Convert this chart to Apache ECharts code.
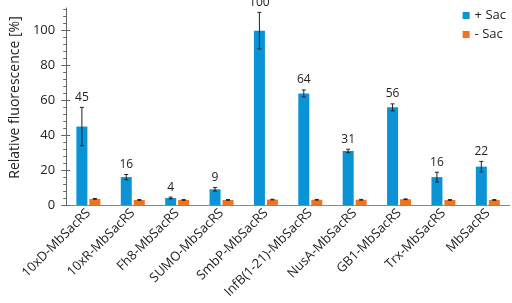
<!DOCTYPE html>
<html>
<head>
<meta charset="utf-8">
<script src="https://cdn.jsdelivr.net/npm/echarts@6/dist/echarts.min.js"></script>
<style>
html, body { margin: 0; padding: 0; background: #fff; }
#chart { width: 512px; height: 303px; }
</style>
</head>
<body>
<div id="chart"></div>
<script>
var categories = ['10xD-MbSacRS', '10xR-MbSacRS', 'Fh8-MbSacRS', 'SUMO-MbSacRS', 'SmbP-MbSacRS',
    'InfB(1-21)-MbSacRS', 'NusA-MbSacRS', 'GB1-MbSacRS', 'Trx-MbSacRS', 'MbSacRS'];
var plusSac = [45, 16, 4, 9, 100, 64, 31, 56, 16, 22];
var plusSacErr = [11, 1.5, 0.5, 1, 10.5, 2, 1, 2, 2.8, 3];
var minusSac = [3.5, 2.9, 2.9, 2.9, 3.1, 3.0, 3.0, 3.3, 2.9, 2.9];
var minusSacErr = [0.2, 0.2, 0.2, 0.2, 0.2, 0.2, 0.2, 0.2, 0.2, 0.2];
var majorTicks = [0, 20, 40, 60, 80, 100];
var minorTicks = [0, 4, 8, 12, 16, 20, 24, 28, 32, 36, 40, 44, 48, 52, 56, 60, 64, 68, 72, 76, 80,
    84, 88, 92, 96, 100, 104, 108, 112];

var chart = echarts.init(document.getElementById('chart'));
var font = 'Open Sans';

function errorSeries(values, errs, offset, showLabel) {
    return {
        type: 'custom',
        z: 10,
        silent: true,
        data: values.map(function (v, i) { return [i, v, errs[i]]; }),
        renderItem: function (params, api) {
            var i = api.value(0);
            var v = api.value(1);
            var e = api.value(2);
            var top = api.coord([i, v + e]);
            var bot = api.coord([i, v - e]);
            var x = top[0] + offset;
            var children = [
                { type: 'line', shape: { x1: x, y1: top[1], x2: x, y2: bot[1] }, style: { stroke: '#222', lineWidth: 1 } },
                { type: 'line', shape: { x1: x - 2, y1: top[1], x2: x + 2, y2: top[1] }, style: { stroke: '#222', lineWidth: 1 } },
                { type: 'line', shape: { x1: x - 2, y1: bot[1], x2: x + 2, y2: bot[1] }, style: { stroke: '#222', lineWidth: 1 } }
            ];
            if (showLabel) {
                children.push({
                    type: 'text',
                    style: {
                        x: x, y: top[1] - 4, text: String(v),
                        align: 'center', verticalAlign: 'bottom',
                        fill: '#222', font: '12px "' + font + '"'
                    }
                });
            }
            return { type: 'group', children: children };
        }
    };
}

var option = {
    animation: false,
    textStyle: { fontFamily: font },
    legend: {
        orient: 'vertical',
        right: 1,
        top: 4,
        itemWidth: 7,
        itemHeight: 7,
        itemGap: 6,
        icon: 'rect',
        textStyle: { fontSize: 13, color: '#222', fontFamily: font },
        data: ['+ Sac', '- Sac']
    },
    grid: { left: 52, right: 2, top: 8, bottom: 98 },
    xAxis: {
        type: 'category',
        data: categories,
        axisLine: { lineStyle: { color: '#888', width: 1 } },
        axisTick: { show: false },
        axisLabel: {
            rotate: 45, interval: 0, fontSize: 13, color: '#222', margin: 6, fontFamily: font
        }
    },
    yAxis: [{
        type: 'value',
        min: 0,
        max: 113,
        name: 'Relative fluorescence [%]',
        nameLocation: 'middle',
        nameGap: 36,
        nameTextStyle: { fontSize: 14, color: '#222', fontFamily: font, padding: [0, 0, 0, 18] },
        splitLine: { show: false },
        axisLine: { show: true, lineStyle: { color: '#666' } },
        axisTick: { show: true, customValues: minorTicks, length: 3, lineStyle: { color: '#666' } },
        axisLabel: { customValues: majorTicks, fontSize: 13, color: '#222', margin: 11, fontFamily: font }
    }, {
        type: 'value',
        min: 0,
        max: 113,
        position: 'left',
        splitLine: { show: false },
        axisLine: { show: false },
        axisTick: { show: true, customValues: majorTicks, inside: true, length: 4, lineStyle: { color: '#666' } },
        axisLabel: { show: false }
    }, {
        type: 'value',
        min: 0,
        max: 113,
        position: 'left',
        splitLine: { show: false },
        axisLine: { show: false },
        axisTick: { show: true, customValues: majorTicks, length: 5, lineStyle: { color: '#666' } },
        axisLabel: { show: false }
    }],
    series: [{
        name: '+ Sac',
        type: 'bar',
        data: plusSac,
        barWidth: 11,
        barGap: '18%',
        itemStyle: { color: '#0a93d5' }
    }, {
        name: '- Sac',
        type: 'bar',
        data: minusSac,
        barWidth: 11,
        barGap: '18%',
        itemStyle: { color: '#f4711f' }
    },
    errorSeries(plusSac, plusSacErr, -6.5, true),
    errorSeries(minusSac, minusSacErr, 6.5, false)
    ]
};
chart.setOption(option);
</script>
</body>
</html>
